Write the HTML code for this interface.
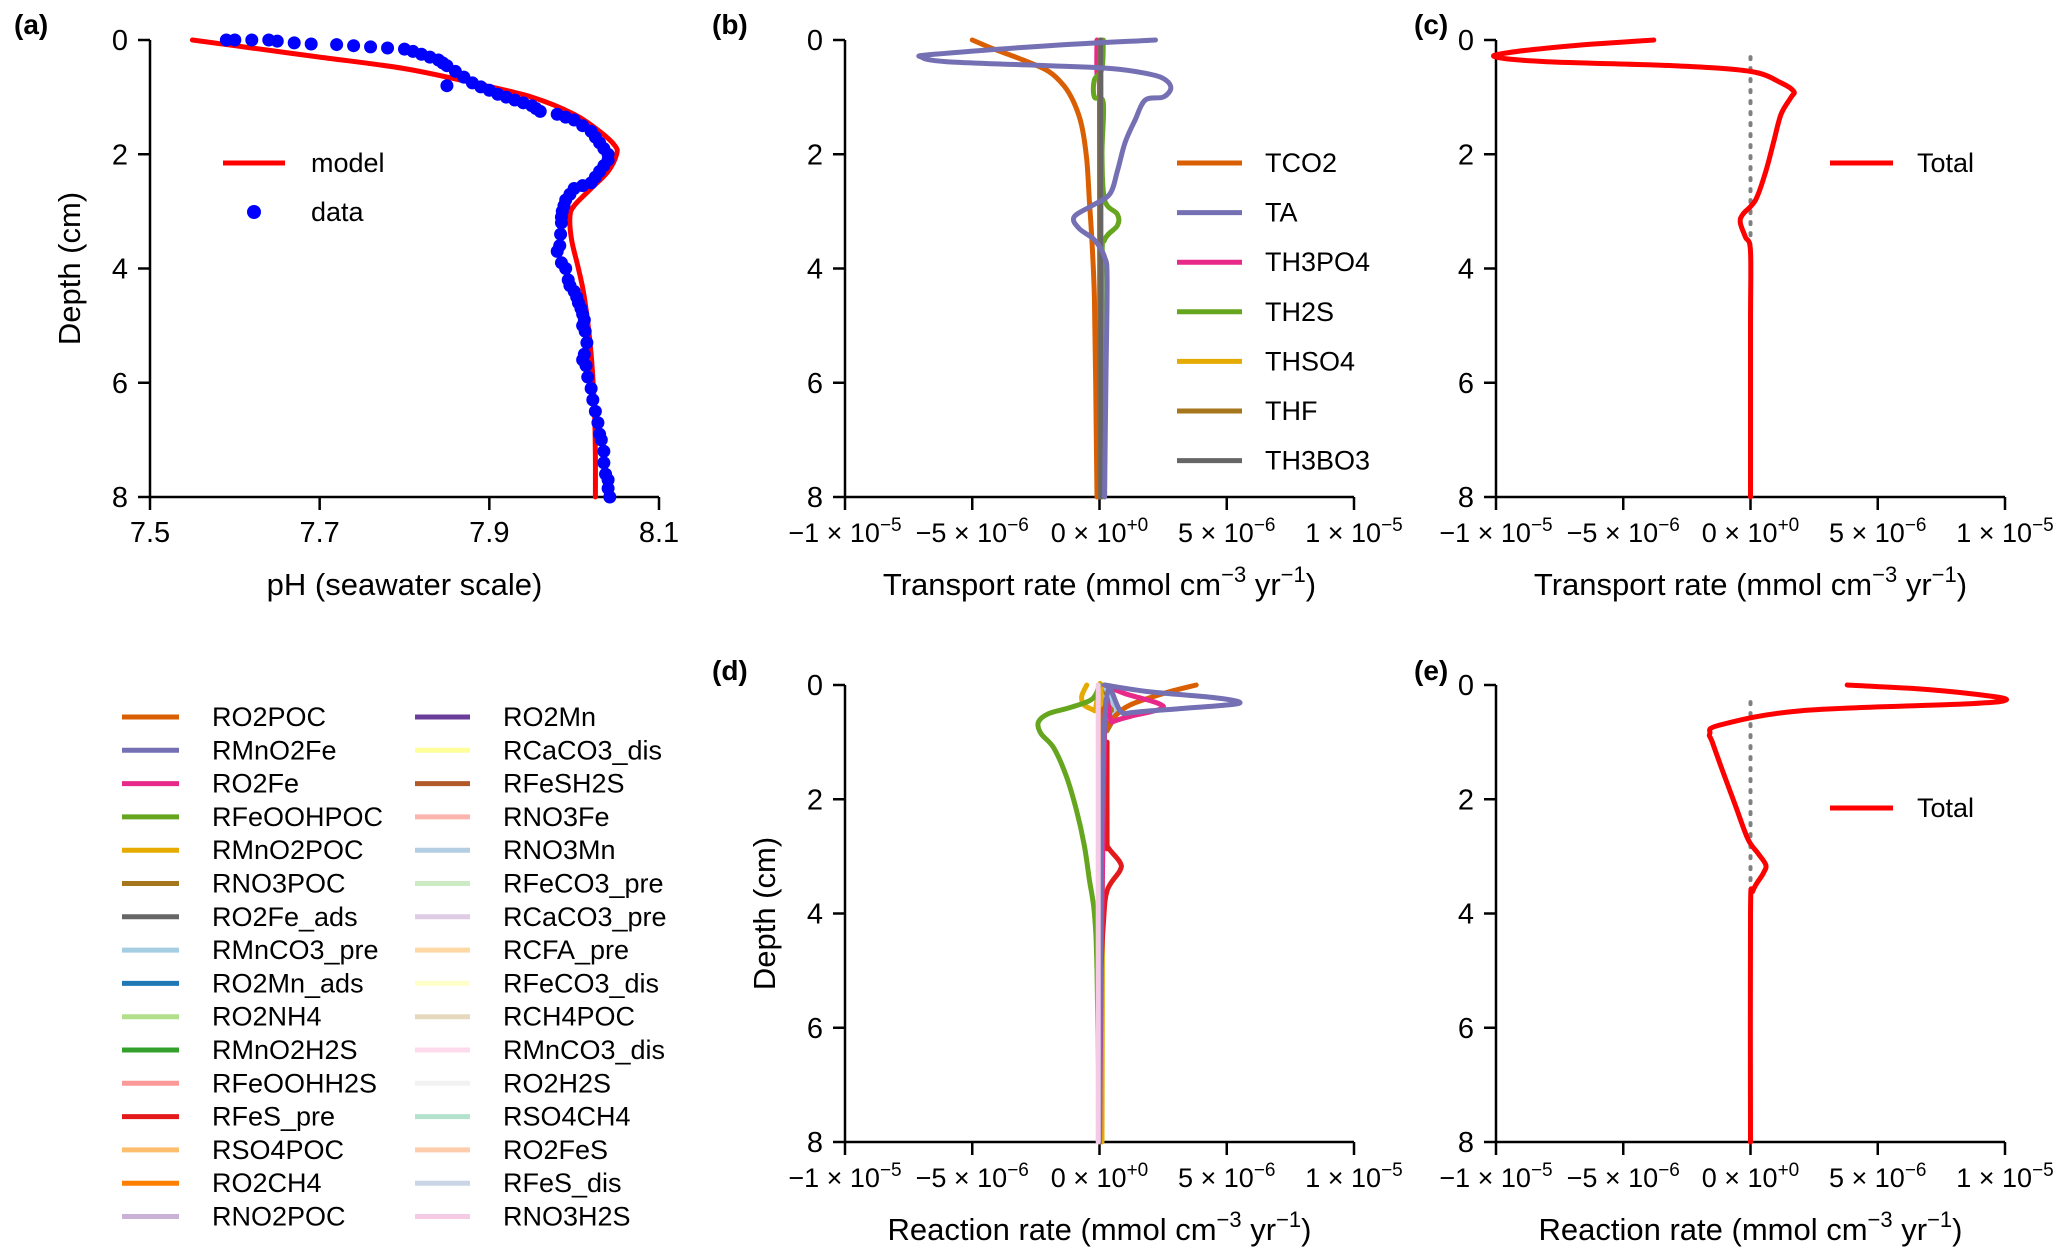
<!DOCTYPE html>
<html><head><meta charset="utf-8"><style>
body{margin:0;background:#fff}
svg{display:block;font-family:"Liberation Sans",Arial,sans-serif}
</style></head><body>
<svg id="fig" width="2067" height="1259" viewBox="0 0 2067 1259"></svg>
<script>
const NS="http://www.w3.org/2000/svg";
const svg=document.getElementById('fig');
// ---------- data ----------
const depthTicks=[0,2,4,6,8];
const phTicks=[7.5,7.7,7.9,8.1];
const rateTicks=[-10,-5,0,5,10];
const rateTickLabels=[["\u22121","\u22125"],["\u22125","\u22126"],["0","+0"],["5","\u22126"],["1","\u22125"]];
const phModelPH=[7.55,7.6,7.7,7.8,7.88,7.95,8.0,8.03,8.048,8.05,8.04,8.02,8.0,7.995,7.997,8.005,8.012,8.02,8.024,8.025,8.025];
const phModelDepth=[0,0.1,0.3,0.5,0.75,1.0,1.3,1.6,1.85,2.0,2.3,2.6,2.9,3.1,3.5,4.0,4.5,5.5,6.5,7.3,8.0];
const phDataPH=[7.59,7.6,7.62,7.64,7.65,7.67,7.69,7.72,7.74,7.76,7.78,7.8,7.81,7.82,7.83,7.84,7.845,7.85,7.86,7.87,7.85,7.88,7.89,7.9,7.91,7.92,7.93,7.94,7.95,7.955,7.96,7.98,7.99,8.0,8.01,8.02,8.025,8.03,8.035,8.04,8.04,8.035,8.03,8.025,8.02,8.01,8.0,7.995,7.99,7.988,7.986,7.985,7.985,7.984,7.983,7.98,7.985,7.99,7.993,7.995,8.0,8.003,8.005,8.008,8.01,8.012,8.01,8.013,8.015,8.012,8.01,8.014,8.016,8.02,8.022,8.025,8.028,8.03,8.032,8.035,8.035,8.037,8.04,8.04,8.042];
const phDataDepth=[0,0,0,0,0.02,0.05,0.07,0.08,0.1,0.12,0.14,0.16,0.2,0.25,0.3,0.35,0.4,0.45,0.55,0.65,0.8,0.75,0.82,0.88,0.95,1.0,1.05,1.1,1.15,1.2,1.25,1.3,1.35,1.4,1.5,1.6,1.7,1.8,1.9,2.0,2.1,2.2,2.3,2.4,2.5,2.55,2.6,2.7,2.8,2.9,3.0,3.1,3.2,3.4,3.6,3.7,3.9,4.0,4.2,4.3,4.4,4.5,4.6,4.7,4.8,4.9,5.0,5.1,5.3,5.5,5.6,5.7,5.9,6.1,6.3,6.5,6.7,6.9,7.0,7.2,7.4,7.6,7.7,7.85,8.0];
// panel b (x in 1e-6)
const bNames=["TCO2","TA","TH3PO4","TH2S","THSO4","THF","TH3BO3"];
const bColors=["#d95f02","#7570b3","#e7298a","#66a61e","#e6ab02","#a6761d","#666666"];
const bTCO2x=[-5,-4.2,-3,-2,-1.4,-1,-0.7,-0.5,-0.4,-0.3,-0.2,-0.15,-0.1];
const bTCO2d=[0,0.15,0.35,0.55,0.8,1.1,1.5,2.1,2.8,3.5,4.5,6,8];
const bTAx=[2.2,-2,-6.5,-7,-6,-2,0.5,2,2.6,2.8,2.5,1.8,1.4,1.0,0.7,0.4,-0.3,-1,-0.8,-0.2,0.2,0.3,0.25,0.2];
const bTAd=[0,0.1,0.25,0.3,0.38,0.45,0.5,0.6,0.7,0.85,1.0,1.05,1.4,1.8,2.3,2.7,2.9,3.1,3.3,3.5,3.8,4.2,6,8];
const bPO4x=[-0.1,-0.1,0,0];
const bPO4d=[0,0.6,1,8];
const bH2Sx=[0.15,0.1,-0.2,-0.2,0.15,0.1,0.2,0.7,0.7,0.2,0.1,0.1];
const bH2Sd=[0,0.5,0.7,1.0,1.1,2.0,2.8,3.05,3.25,3.5,4,8];
const bSO4x=[0.05,0.05];const bSO4d=[0,8];
const bHFx=[0.02,0.02];const bHFd=[0,8];
const bBO3x=[0.05,0.05];const bBO3d=[0,8];
// panel c total transport
const cTotX=[-3.8,-7,-9.5,-10,-8,-3,0,1.2,1.7,1.6,1.2,0.9,0.6,0.2,-0.3,-0.4,-0.2,0,0,0];
const cTotD=[0,0.1,0.22,0.3,0.38,0.45,0.55,0.75,0.9,1.0,1.3,1.8,2.3,2.8,3.05,3.2,3.45,3.7,5,8];
// panel d reactions
const dNames=["RO2POC","RMnO2Fe","RO2Fe","RFeOOHPOC","RMnO2POC","RNO3POC","RO2Fe_ads","RMnCO3_pre","RO2Mn_ads","RO2NH4","RMnO2H2S","RFeOOHH2S","RFeS_pre","RSO4POC","RO2CH4","RNO2POC","RO2Mn","RCaCO3_dis","RFeSH2S","RNO3Fe","RNO3Mn","RFeCO3_pre","RCaCO3_pre","RCFA_pre","RFeCO3_dis","RCH4POC","RMnCO3_dis","RO2H2S","RSO4CH4","RO2FeS","RFeS_dis","RNO3H2S"];
const dColors=["#d95f02","#7570b3","#e7298a","#66a61e","#e6ab02","#a6761d","#666666","#a6cee3","#1f78b4","#b2df8a","#33a02c","#fb9a99","#e31a1c","#fdbf6f","#ff7f00","#cab2d6","#6a3d9a","#ffff99","#b15928","#fbb4ae","#b3cde3","#ccebc5","#decbe4","#fed9a6","#ffffcc","#e5d8bd","#fddaec","#f2f2f2","#b3e2cd","#fdcdac","#cbd5e8","#f4cae4"];
const dO2POCx=[3.8,2.5,1.2,0.6,0.3,0.1,0];const dO2POCd=[0,0.15,0.35,0.55,0.75,1.0,8];
const dMnO2Fex=[0.2,2,4.5,5.5,5,3,1,0.2,0];const dMnO2Fed=[0,0.12,0.22,0.3,0.35,0.42,0.5,0.65,8];
const dO2Fex=[0.2,1,2.3,2.4,1.2,0.5,0.2,0];const dO2Fed=[0,0.15,0.32,0.42,0.55,0.65,0.8,8];
const dFeOOHPOCx=[0,-0.3,-1.2,-2,-2.4,-2.3,-1.8,-1.3,-0.9,-0.6,-0.4,-0.2,-0.1,0];const dFeOOHPOCd=[0,0.25,0.4,0.5,0.65,0.85,1.1,1.6,2.2,2.8,3.4,4.0,5,8];
const dMnO2POCx=[-0.5,-0.7,-0.6,-0.2,0.1,0.1];const dMnO2POCd=[0,0.2,0.35,0.45,0.55,8];
const dNO3POCx=[0.1,0.4,0.5,0.3,0.1,0];const dNO3POCd=[0,0.3,0.6,0.8,1.0,8];
const dMnCO3prex=[0.2,0.5,0.7,0.4,0.1,0];const dMnCO3pred=[0,0.3,0.45,0.6,0.9,8];
const dFeSprex=[0.3,0.3,0.35,0.8,0.8,0.3,0.15,0];const dFeSpred=[1.0,2.7,2.85,3.1,3.25,3.6,4.2,5.5];
const dPinkx=[-0.05,-0.05];const dPinkd=[0,8];
// panel e total reaction
const eTotX=[3.8,7,9.5,10,8.5,2,-1.2,-1.6,-1.5,-1.1,-0.6,-0.1,0.3,0.6,0.5,0.1,0,0];
const eTotD=[0,0.08,0.2,0.27,0.33,0.45,0.7,0.85,1.0,1.5,2.1,2.7,2.95,3.15,3.3,3.6,4,8];

// ---------- helpers ----------
function el(tag,attrs,parent){const e=document.createElementNS(NS,tag);for(const k in attrs)e.setAttribute(k,attrs[k]);(parent||svg).appendChild(e);return e;}
function txt(str,x,y,size,anchor,parent,weight){const t=el('text',{x:x,y:y,'font-size':size,'text-anchor':anchor||'middle',fill:'#000'},parent);if(weight)t.setAttribute('font-weight',weight);t.textContent=str;return t;}
function panel(name,L,R,T,B,xmin,xmax){
  const g=el('g',{});
  
  
  const sx=v=>L+(v-xmin)/(xmax-xmin)*(R-L);
  const sy=d=>T+d/8*(B-T);
  return {g,sx,sy,L,R,T,B};
}
function yAxis(p,labelName,title){
  const a=el('g',{},p.g);
  
  
  el('line',{x1:p.L,y1:p.sy(0),x2:p.L,y2:p.sy(8),stroke:'#000','stroke-width':2.5},a);
  depthTicks.forEach(d=>{
    el('line',{x1:p.L-12,y1:p.sy(d),x2:p.L,y2:p.sy(d),stroke:'#000','stroke-width':2.5},a);
    const t=txt(String(d),p.L-22,p.sy(d)+10,29,'end',a);
    
    
  });
  if(title){
    const t=el('text',{x:0,y:0,'font-size':31,'text-anchor':'middle',transform:`translate(${p.L-70},${(p.sy(0)+p.sy(8))/2}) rotate(-90)`},a);
    t.textContent=title;
    
    
  }
}
function xAxisRate(p,title){
  const a=el('g',{},p.g);
  
  
  el('line',{x1:p.L,y1:p.B,x2:p.R,y2:p.B,stroke:'#000','stroke-width':2.5},a);
  rateTicks.forEach((v,i)=>{
    const x=p.sx(v);
    el('line',{x1:x,y1:p.B,x2:x,y2:p.B+13,stroke:'#000','stroke-width':2.5},a);
    const t=el('text',{x:x,y:p.B+45,'font-size':27,'text-anchor':'middle'},a);
    
    
    const s1=el('tspan',{},t);s1.textContent=rateTickLabels[i][0]+" \u00d7 10";
    const s2=el('tspan',{dy:-11,'font-size':19},t);s2.textContent=rateTickLabels[i][1];
  });
  const t=el('text',{x:(p.L+p.R)/2,y:p.B+98,'font-size':31,'text-anchor':'middle'},a);
  
  
  const s1=el('tspan',{},t);s1.textContent=title+" (mmol cm";
  const s2=el('tspan',{dy:-13,'font-size':22},t);s2.textContent="\u22123";
  const s3=el('tspan',{dy:13},t);s3.textContent=" yr";
  const s4=el('tspan',{dy:-13,'font-size':22},t);s4.textContent="\u22121";
  const s5=el('tspan',{dy:13},t);s5.textContent=")";
}
function smoothPath(P){
  if(P.length<3)return "M"+P.map(q=>q[0].toFixed(1)+","+q[1].toFixed(1)).join("L");
  let d="M"+P[0][0].toFixed(1)+","+P[0][1].toFixed(1);
  for(let i=0;i<P.length-1;i++){
    const p0=P[Math.max(0,i-1)],p1=P[i],p2=P[i+1],p3=P[Math.min(P.length-1,i+2)];
    const c1=[p1[0]+(p2[0]-p0[0])/6,p1[1]+(p2[1]-p0[1])/6];
    const c2=[p2[0]-(p3[0]-p1[0])/6,p2[1]-(p3[1]-p1[1])/6];
    d+="C"+c1[0].toFixed(1)+","+c1[1].toFixed(1)+" "+c2[0].toFixed(1)+","+c2[1].toFixed(1)+" "+p2[0].toFixed(1)+","+p2[1].toFixed(1);
  }
  return d;
}
function line(p,xs,ds,color,w,name,dash){
  const P=xs.map((v,i)=>[p.sx(v),p.sy(ds[i])]);
  const l=el('path',{d:dash?"M"+P.map(q=>q[0]+","+q[1]).join("L"):smoothPath(P),fill:'none',stroke:color,'stroke-width':w||5,'stroke-linejoin':'round','stroke-linecap':'round'},p.g);
  if(dash)l.setAttribute('stroke-dasharray',dash);
  
  
  return l;
}
function legendEntry(parent,x1,x2,tx,y,color,label){
  const g=el('g',{},parent);
  
  
  el('line',{x1:x1,y1:y,x2:x2,y2:y,stroke:color,'stroke-width':5},g);
  txt(label,tx,y+9,27,'start',g);
}
function panelLabel(s,x,y){const t=txt(s,x,y,28,'start',svg,'bold');}

// ---------- panel a ----------
const pa=panel('panel-a-ph',150,659,40,497,7.5,8.1);
yAxis(pa,'y','Depth (cm)');
(function(){
  const a=el('g',{},pa.g);
  
  
  el('line',{x1:pa.L,y1:pa.B,x2:pa.R,y2:pa.B,stroke:'#000','stroke-width':2.5},a);
  phTicks.forEach(v=>{const x=pa.sx(v);el('line',{x1:x,y1:pa.B,x2:x,y2:pa.B+13,stroke:'#000','stroke-width':2.5},a);
    const t=txt(v.toFixed(1),x,pa.B+45,29,'middle',a);
    
    });
  const t=txt('pH (seawater scale)',(pa.L+pa.R)/2,pa.B+98,31,'middle',a);
  
  
})();
line(pa,phModelPH,phModelDepth,'#ff0000',5,'model-line');
phDataPH.forEach((v,i)=>{const c=el('circle',{cx:pa.sx(v),cy:pa.sy(phDataDepth[i]),r:6.5,fill:'#0000ff'},pa.g);
  
  });
(function(){const lg=el('g',{},pa.g);
  
  
  legendEntry(lg,223,285,311,163,'#ff0000','model');
  const g=el('g',{},lg);
  
  
  el('circle',{cx:254,cy:212,r:7,fill:'#0000ff'},g);txt('data',311,221,27,'start',g);
})();
panelLabel('(a)',14,34);

// ---------- panel b ----------
const pb=panel('panel-b-transport',845,1354,40,497,-10,10);
yAxis(pb,'y',null);xAxisRate(pb,'Transport rate');
const bX=[bTCO2x,bTAx,bPO4x,bH2Sx,bSO4x,bHFx,bBO3x],bD=[bTCO2d,bTAd,bPO4d,bH2Sd,bSO4d,bHFd,bBO3d];
[0,2,3,4,5,6,1].forEach(i=>line(pb,bX[i],bD[i],bColors[i],5,'series-'+bNames[i].toLowerCase()));
(function(){const lg=el('g',{},pb.g);
  
  
  bNames.forEach((n,i)=>legendEntry(lg,1177,1242,1265,163+i*49.6,bColors[i],n));})();
panelLabel('(b)',712,34);

// ---------- panel c ----------
const pc=panel('panel-c-total-transport',1496,2005,40,497,-10,10);
yAxis(pc,'y',null);xAxisRate(pc,'Transport rate');
line(pc,[0,0],[0.3,8],'#808080',4,'zero-reference-line','2 9');
line(pc,cTotX,cTotD,'#ff0000',5,'series-total');
(function(){const lg=el('g',{},pc.g);
  
  
  legendEntry(lg,1830,1893,1917,163,'#ff0000','Total');})();
panelLabel('(c)',1414,34);

// ---------- panel d ----------
const pd=panel('panel-d-reaction',845,1354,685,1142,-10,10);
yAxis(pd,'y','Depth (cm)');xAxisRate(pd,'Reaction rate');
const flat=i=>[[0.05*((i%5)-2)*0.4,0.05*((i%5)-2)*0.4],[0,8]];
const dSpecial={0:[dO2POCx,dO2POCd],1:[dMnO2Fex,dMnO2Fed],2:[dO2Fex,dO2Fed],3:[dFeOOHPOCx,dFeOOHPOCd],4:[dMnO2POCx,dMnO2POCd],5:[dNO3POCx,dNO3POCd],7:[dMnCO3prex,dMnCO3pred],12:[dFeSprex,dFeSpred],31:[dPinkx,dPinkd]};
dNames.forEach((n,i)=>{if(!dSpecial[i]){const f=flat(i);line(pd,f[0],f[1],dColors[i],3,'series-'+n.toLowerCase());}});
[5,7,4,3,12,0,2,1,31].forEach(i=>line(pd,dSpecial[i][0],dSpecial[i][1],dColors[i],5,'series-'+dNames[i].toLowerCase()));
panelLabel('(d)',712,680);

// ---------- panel e ----------
const pe=panel('panel-e-total-reaction',1496,2005,685,1142,-10,10);
yAxis(pe,'y',null);xAxisRate(pe,'Reaction rate');
line(pe,[0,0],[0.3,8],'#808080',4,'zero-reference-line','2 9');
line(pe,eTotX,eTotD,'#ff0000',5,'series-total');
(function(){const lg=el('g',{},pe.g);
  
  
  legendEntry(lg,1830,1893,1917,808,'#ff0000','Total');})();
panelLabel('(e)',1414,680);

// ---------- reaction legend ----------
(function(){const lg=el('g',{});
  
  
  dNames.forEach((n,i)=>{const col=i<16?0:1,row=i%16;
    const x1=col?415:122,x2=col?470:179,tx=col?503:212;
    legendEntry(lg,x1,x2,tx,717+row*33.3,dColors[i],n);});})();
</script>
</body></html>
